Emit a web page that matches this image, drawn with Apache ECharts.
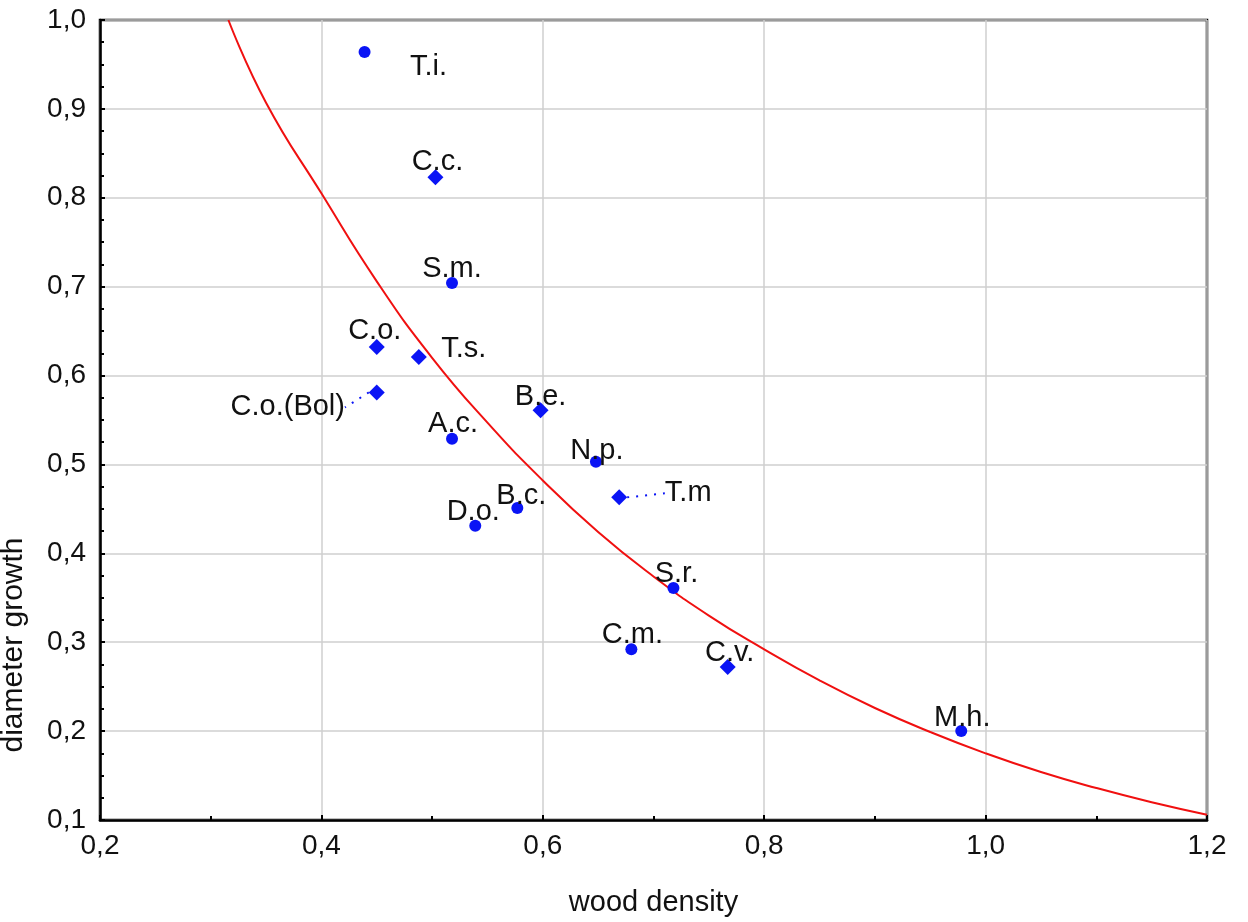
<!DOCTYPE html>
<html>
<head>
<meta charset="utf-8">
<style>
  html, body { margin: 0; padding: 0; background: #fff; }
  #main { width: 1248px; height: 922px; }
</style>
<script src="https://cdn.jsdelivr.net/npm/echarts@6/dist/echarts.min.js"></script>
</head>
<body>
<div id="main"></div>
<script>
// species points
var speciesNames = ['T.i.', 'C.c.', 'S.m.', 'C.o.', 'T.s.', 'C.o.(Bol)', 'B.e.', 'A.c.',
  'N.p.', 'T.m', 'B.c.', 'D.o.', 'S.r.', 'C.m.', 'C.v.', 'M.h.'];
var woodDensity = [0.439, 0.503, 0.518, 0.450, 0.488, 0.450, 0.598, 0.518,
  0.648, 0.669, 0.577, 0.539, 0.718, 0.680, 0.767, 0.978];
var diameterGrowth = [0.964, 0.823, 0.704, 0.632, 0.621, 0.581, 0.561, 0.529,
  0.503, 0.463, 0.451, 0.431, 0.361, 0.292, 0.272, 0.200];

// fitted red curve
var curveX = [0.316, 0.35, 0.40, 0.45, 0.50, 0.55, 0.60, 0.65, 0.70, 0.75,
  0.80, 0.85, 0.90, 0.95, 1.00, 1.05, 1.10, 1.15, 1.20];
var curveY = [1.000, 0.907, 0.805, 0.706, 0.620, 0.547, 0.482, 0.424, 0.374, 0.330,
  0.292, 0.257, 0.226, 0.199, 0.175, 0.154, 0.136, 0.120, 0.106];

var xTicks = { min: 0.2, max: 1.2, interval: 0.2 };
var yTicks = { min: 0.1, max: 1.0, interval: 0.1 };

// label placement (pixels, relative to the marker)
var labelShift = {
  'T.i.': [64, 15], 'C.c.': [2, -15], 'S.m.': [0, -14], 'C.o.': [-2, -16],
  'T.s.': [45, -8], 'C.o.(Bol)': [-89, 15], 'B.e.': [0, -13], 'A.c.': [1, -15],
  'N.p.': [1, -11], 'T.m': [69, -4], 'B.c.': [4, -12], 'D.o.': [-2, -14],
  'S.r.': [3, -14], 'C.m.': [1, -14], 'C.v.': [2, -14], 'M.h.': [1, -13]
};
var diamonds = ['C.c.', 'C.o.', 'T.s.', 'C.o.(Bol)', 'B.e.', 'T.m', 'C.v.'];
var withLeader = ['C.o.(Bol)', 'T.m'];

var fontFam = '"Liberation Sans", Arial, sans-serif';
var comma = function (v) { return v.toFixed(1).replace('.', ','); };

var points = speciesNames.map(function (n, i) {
  var isDia = diamonds.indexOf(n) >= 0;
  return {
    name: n,
    value: [woodDensity[i], diameterGrowth[i]],
    symbol: isDia ? 'diamond' : 'circle',
    symbolSize: isDia ? 16 : 12,
    labelLine: { show: withLeader.indexOf(n) >= 0 }
  };
});

var curve = curveX.map(function (x, i) { return [x, curveY[i]]; });

var myChart = echarts.init(document.getElementById('main'));
var option = {
  backgroundColor: '#fff',
  animation: false,
  grid: {
    left: 100, top: 20, right: 41, bottom: 100,
    show: true, borderColor: '#000', borderWidth: 2.5
  },
  xAxis: {
    type: 'value',
    min: xTicks.min, max: xTicks.max, interval: xTicks.interval,
    name: 'wood density',
    nameLocation: 'middle',
    nameGap: 68,
    nameTextStyle: { fontFamily: fontFam, fontSize: 29, color: '#111' },
    axisLine: { lineStyle: { color: '#000', width: 2.5 } },
    axisTick: { inside: true, length: 5, lineStyle: { color: '#000', width: 2 } },
    minorTick: { show: true, splitNumber: 2, length: 4, lineStyle: { color: '#000', width: 2 } },
    axisLabel: { formatter: comma, fontFamily: fontFam, fontSize: 28, color: '#111', margin: 12 },
    splitLine: { lineStyle: { color: '#cfcfcf', width: 1.5 } }
  },
  yAxis: {
    type: 'value',
    min: yTicks.min, max: yTicks.max, interval: yTicks.interval,
    axisLine: { lineStyle: { color: '#000', width: 2.5 } },
    axisTick: { inside: true, length: 5, lineStyle: { color: '#000', width: 2 } },
    minorTick: { show: true, splitNumber: 4, length: 4, lineStyle: { color: '#000', width: 2 } },
    axisLabel: { formatter: comma, fontFamily: fontFam, fontSize: 28, color: '#111', margin: 14 },
    splitLine: { lineStyle: { color: '#cfcfcf', width: 1.5 } }
  },
  graphic: [{
    type: 'text',
    x: 14, y: 645,
    rotation: Math.PI / 2,
    style: {
      text: 'diameter growth',
      font: '30px ' + fontFam,
      fill: '#111',
      textAlign: 'center',
      textVerticalAlign: 'middle'
    }
  }],
  series: [
    {
      type: 'line',
      data: curve,
      smooth: true,
      showSymbol: false,
      lineStyle: { color: '#f01010', width: 2 },
      z: 2
    },
    {
      type: 'scatter',
      data: points,
      itemStyle: { color: '#0a14f5', opacity: 1 },
      label: {
        show: true,
        position: 'inside',
        formatter: '{b}',
        fontFamily: fontFam,
        fontSize: 29,
        color: '#111'
      },
      labelLine: {
        show: false,
        lineStyle: { color: '#0a14f5', width: 2, type: [2, 7] }
      },
      labelLayout: function (p) {
        var s = labelShift[speciesNames[p.dataIndex]];
        return { dx: s[0], dy: s[1] };
      },
      z: 3
    }
  ]
};
option && myChart.setOption(option);
</script>
</body>
</html>
